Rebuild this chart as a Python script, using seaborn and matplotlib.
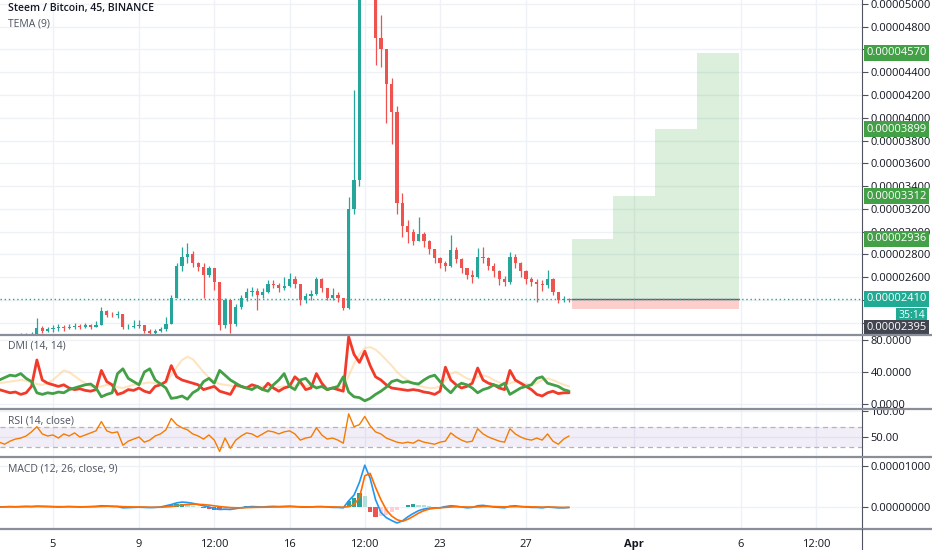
import numpy as np
import pandas as pd
import matplotlib
matplotlib.use("Agg")
import matplotlib.pyplot as plt
import matplotlib.dates as mdates
from matplotlib.lines import Line2D
from matplotlib.ticker import FixedLocator, FuncFormatter
import seaborn as sns

# Steem / BTC, resampled to 6h candles, prices in satoshi (1e-8 BTC)
start = "2019-03-02 12:00"
first_open = 2060
close = [2070, 2080, 2075, 2085, 2090, 2095, 2100, 2150, 2130, 2140,
         2150, 2160, 2150, 2165, 2170, 2160, 2175, 2165, 2180, 2300,
         2270, 2265, 2275, 2160, 2165, 2170, 2175, 2130, 2110, 2125,
         2140, 2190, 2420, 2700, 2780, 2800, 2720, 2690, 2620, 2680,
         2560, 2180, 2400, 2190, 2340, 2420, 2470, 2480, 2440, 2470,
         2540, 2530, 2500, 2520, 2580, 2540, 2400, 2430, 2450, 2580,
         2500, 2420, 2440, 2420, 2330, 3200, 3450, 5100, 5300, 5200,
         4700, 4600, 4300, 4050, 3250, 3050, 3000, 2920, 2980, 2920,
         2850, 2770, 2720, 2700, 2840, 2760, 2680, 2620, 2600, 2780,
         2770, 2700, 2650, 2580, 2560, 2780, 2720, 2650, 2580, 2560,
         2540, 2530, 2580, 2470, 2400, 2410, 2395]
high = [2090, 2095, 2100, 2100, 2105, 2110, 2120, 2240, 2170, 2160,
        2180, 2190, 2175, 2190, 2200, 2185, 2195, 2185, 2210, 2335,
        2310, 2290, 2300, 2275, 2185, 2220, 2225, 2180, 2140, 2145,
        2165, 2250, 2440, 2720, 2865, 2900, 2830, 2735, 2720, 2700,
        2680, 2560, 2420, 2400, 2360, 2440, 2500, 2510, 2500, 2500,
        2575, 2570, 2550, 2600, 2635, 2610, 2540, 2460, 2490, 2600,
        2590, 2500, 2500, 2470, 2420, 3300, 4240, 5150, 5500, 5450,
        5250, 4900, 4600, 4350, 4100, 3340, 3100, 3020, 3130, 3000,
        2930, 2850, 2780, 2740, 2970, 2860, 2770, 2680, 2660, 2855,
        2860, 2780, 2720, 2660, 2610, 2820, 2800, 2730, 2660, 2600,
        2580, 2570, 2665, 2590, 2450, 2430, 2420]
low = [2050, 2060, 2055, 2065, 2070, 2075, 2080, 2095, 2110, 2115,
       2120, 2130, 2125, 2140, 2145, 2140, 2150, 2145, 2160, 2180,
       2250, 2245, 2240, 2140, 2140, 2150, 2150, 2110, 2090, 2100,
       2115, 2130, 2190, 2420, 2650, 2720, 2690, 2650, 2420, 2600,
       2490, 2135, 2150, 2110, 2170, 2320, 2390, 2430, 2310, 2420,
       2460, 2500, 2470, 2490, 2510, 2500, 2355, 2370, 2400, 2440,
       2470, 2400, 2400, 2380, 2310, 2320, 3150, 3400, 5080, 5060,
       4460, 4450, 3950, 3770, 3150, 2950, 2900, 2880, 2920, 2860,
       2800, 2720, 2680, 2650, 2690, 2720, 2640, 2580, 2550, 2590,
       2720, 2660, 2600, 2530, 2520, 2540, 2680, 2600, 2540, 2520,
       2380, 2480, 2500, 2440, 2370, 2380, 2380]

# DMI (14, 14)
plus_di = [30, 33, 36, 35, 38, 32, 28, 14, 12, 14, 13, 15, 14, 18, 20, 22, 24, 25, 20, 9,
           12, 14, 38, 44, 32, 28, 24, 40, 44, 30, 25, 20, 7, 8, 10, 6, 14, 18, 28, 32,
           26, 42, 36, 30, 26, 22, 20, 18, 22, 18, 16, 24, 30, 38, 22, 18, 30, 32, 24, 20,
           22, 18, 20, 22, 34, 15, 9, 8, 4, 7, 12, 16, 21, 28, 30, 27, 28, 26, 25, 30,
           34, 36, 28, 20, 14, 22, 26, 24, 20, 14, 18, 20, 24, 22, 26, 12, 16, 20, 22, 24,
           32, 34, 26, 24, 22, 18, 16]
minus_di = [18, 16, 14, 15, 12, 14, 22, 55, 30, 26, 24, 22, 24, 20, 18, 19, 17, 16, 18, 42,
            28, 24, 12, 14, 18, 17, 20, 16, 14, 22, 24, 28, 48, 34, 30, 28, 26, 24, 18, 20,
            22, 16, 14, 12, 24, 22, 20, 24, 22, 18, 26, 20, 16, 20, 22, 34, 28, 18, 20, 38,
            26, 18, 20, 18, 16, 84, 62, 52, 66, 48, 34, 30, 24, 20, 19, 18, 17, 18, 17, 15,
            14, 12, 16, 46, 30, 24, 20, 22, 26, 45, 30, 26, 24, 20, 18, 42, 30, 26, 22, 18,
            12, 10, 14, 16, 13, 14, 14]
adx = [26, 27, 28, 29, 30, 29, 27, 25, 24, 26, 30, 36, 42, 40, 35, 30, 26, 22, 20, 22,
       24, 23, 21, 20, 22, 24, 25, 26, 27, 26, 25, 28, 36, 46, 55, 59, 56, 48, 40, 33,
       28, 25, 24, 23, 22, 21, 20, 20, 21, 22, 21, 20, 21, 22, 22, 23, 24, 23, 22, 22,
       21, 20, 20, 20, 21, 35, 50, 62, 70, 71, 68, 62, 55, 48, 40, 34, 30, 26, 23, 21,
       20, 20, 22, 30, 38, 40, 36, 32, 30, 34, 36, 34, 30, 27, 24, 26, 28, 27, 25, 24,
       26, 30, 32, 30, 27, 24, 22]

# RSI (14, close)
rsi = [40, 36, 42, 46, 48, 52, 60, 70, 56, 52, 54, 48, 56, 52, 58, 50, 54, 58, 62, 80,
       62, 58, 60, 34, 42, 46, 50, 40, 44, 52, 56, 64, 86, 74, 68, 64, 56, 52, 46, 54,
       44, 22, 48, 28, 44, 52, 58, 56, 50, 56, 62, 60, 56, 60, 62, 56, 44, 48, 50, 68,
       54, 46, 48, 44, 38, 95, 70, 74, 90, 72, 60, 56, 48, 44, 40, 38, 40, 38, 44, 40,
       38, 36, 40, 42, 58, 50, 44, 40, 42, 66, 56, 50, 46, 42, 40, 66, 56, 50, 46, 44,
       48, 44, 56, 42, 36, 46, 52]

# MACD (12, 26, close, 9), satoshi
macd = [0, 5, 10, 5, 10, 15, 10, 20, 15, 10, 5, 0, 5, 10, 5, 0, 5, 10, 15, 30,
        25, 15, 10, -20, -15, -10, -5, -10, -15, -10, 0, 30, 60, 100, 120, 110, 90, 60, 30, 0,
        -40, -60, -55, -60, -40, -20, 0, 10, 5, 0, 10, 15, 10, 15, 20, 10, 0, -5, 0, 10,
        10, 0, -10, -10, -20, 150, 290, 600, 1020, 700, 180, -130, -260, -330, -390, -340, -240, -160, -90, -50,
        -30, -20, -20, 10, 30, 20, 0, -20, -10, 30, 40, 20, 0, -10, -20, 20, 30, 10, 0, -10,
        -10, -20, 0, -10, -20, -20, -10]
signal = [0, 2, 5, 5, 7, 10, 10, 13, 14, 13, 11, 8, 7, 8, 7, 5, 5, 6, 8, 14,
          17, 17, 15, 8, 4, 1, 0, -2, -5, -6, -5, 2, 14, 31, 49, 61, 67, 65, 58, 46,
          29, 11, -2, -14, -20, -20, -16, -11, -8, -6, -3, 0, 2, 5, 8, 9, 7, 4, 3, 4,
          6, 5, 2, -1, -5, 10, 60, 220, 760, 820, 480, 180, -70, -220, -310, -350, -300, -230, -150, -90,
          -50, -30, -20, -10, 0, 5, 4, 0, -2, 4, 12, 14, 11, 7, 2, 6, 10, 10, 8, 4,
          1, -3, -2, -4, -7, -10, -10]
hist = [0, 3, 5, 0, 3, 5, 0, 7, 1, -3, -6, -8, -2, 2, -2, -5, 0, 4, 7, 16,
        8, -2, -5, -28, -19, -11, -5, -8, -10, -4, 5, 28, 46, 69, 71, 49, 23, -5, -28, -46,
        -69, -71, -53, -46, -20, 0, 16, 21, 13, 6, 13, 15, 8, 10, 12, 1, -7, -9, -3, 6,
        4, -5, -12, -9, -15, 140, 230, 340, 260, -120, -250, -220, -190, -110, -80, 10, 60, 70, 60, 40,
        20, 10, 0, 20, 30, 15, -4, -20, -8, 26, 28, 6, -11, -17, -22, 14, 20, 0, -8, -14,
        -11, -17, 2, -6, -13, -10, 0]

# long position tool
entry = 2410
stop = 2320
targets = [2936, 3312, 3899, 4570]
target_edges = ["2019-03-29 03:20", "2019-03-31 01:10", "2019-04-02 00:00",
                "2019-04-03 22:50", "2019-04-05 21:40"]
last_price = 2395

# price levels whose scale labels sit fully under a badge
hidden_levels = [2200, 2400, 4600]

tick_dates = ["2019-03-05 00:00", "2019-03-09 00:00", "2019-03-12 12:00", "2019-03-16 00:00",
              "2019-03-19 12:00", "2019-03-23 00:00", "2019-03-27 00:00", "2019-04-01 00:00",
              "2019-04-06 00:00", "2019-04-09 12:00"]
tick_labels = ["5", "9", "12:00", "16", "12:00", "23", "27", "Apr", "6", "12:00"]

UP = "#26a69a"
DOWN = "#ef5350"
GRID = "#eef1f6"
TEXT = "#4c525e"
SEP = "#8a8e98"

sns.set_style("white")
plt.rcParams["font.family"] = ["Open Sans", "DejaVu Sans"]

W, H = 932, 550
fig = plt.figure(figsize=(W / 100, H / 100), dpi=100)


def px_axes(top, bottom):
    return fig.add_axes([0, 1 - bottom / H, 862 / W, (bottom - top) / H])


ax = px_axes(0, 335)
ax_dmi = px_axes(335, 409)
ax_rsi = px_axes(409, 457)
ax_macd = px_axes(457, 529)
axes = [ax, ax_dmi, ax_rsi, ax_macd]

t = mdates.date2num(pd.date_range(start, periods=len(close), freq="6h"))
opens = [first_open] + close[:-1]
xlim = (mdates.date2num(pd.Timestamp("2019-03-02 12:50")),
        mdates.date2num(pd.Timestamp("2019-04-11 15:00")))
ticks_x = mdates.date2num(pd.to_datetime(tick_dates, format="%Y-%m-%d %H:%M"))

# candles
colors = [UP if c >= o else DOWN for o, c in zip(opens, close)]
ax.vlines(t, low, high, colors=colors, linewidth=0.9, zorder=3)
bottoms = np.minimum(opens, close)
heights = np.maximum(np.abs(np.array(close) - np.array(opens)), 4)
ax.bar(t, heights, bottom=bottoms, width=0.15, color=colors, zorder=3, linewidth=0)

# long position boxes
edges = mdates.date2num(pd.to_datetime(target_edges, format="%Y-%m-%d %H:%M"))
for i, tgt in enumerate(targets):
    ax.fill_between([edges[i], edges[i + 1]], entry, tgt, color="#4caf50", alpha=0.2,
                    linewidth=0, zorder=1)
ax.fill_between([edges[0], edges[-1]], stop, entry, color="#f44336", alpha=0.25,
                linewidth=0, zorder=1)
ax.plot([edges[0], edges[-1]], [entry, entry], color="#5d606b", lw=1, zorder=2)
ax.axhline(entry, color=UP, lw=1, ls=(0, (1, 2)), zorder=2)

ax.set_ylim(2091, 5035)
ax.yaxis.set_major_locator(FixedLocator(range(2200, 5001, 200)))
ax.yaxis.set_major_formatter(
    FuncFormatter(lambda v, _: "" if round(v) in hidden_levels else f"{v * 1e-8:.8f}"))

# DMI
sns.lineplot(x=t, y=adx, ax=ax_dmi, color="#ffcc80", alpha=0.5, linewidth=1.5)
sns.lineplot(x=t, y=minus_di, ax=ax_dmi, color="#f23a2a", linewidth=2)
sns.lineplot(x=t, y=plus_di, ax=ax_dmi, color="#43a047", linewidth=2)
ax_dmi.set_ylim(-6.25, 86.25)
ax_dmi.yaxis.set_major_locator(FixedLocator([0, 40, 80]))
ax_dmi.yaxis.set_major_formatter(FuncFormatter(lambda v, _: f"{v:.4f}"))

# RSI
ax_rsi.axhspan(30, 70, color="#9575cd", alpha=0.12, linewidth=0)
for lvl in (30, 70):
    ax_rsi.axhline(lvl, color="#b2b5be", lw=0.9, ls=(0, (4, 3)))
sns.lineplot(x=t, y=rsi, ax=ax_rsi, color="#f57c00", linewidth=1)
ax_rsi.set_ylim(11.2, 104.4)
ax_rsi.yaxis.set_major_locator(FixedLocator([50, 100]))
ax_rsi.yaxis.set_major_formatter(FuncFormatter(lambda v, _: f"{v:.2f}"))

# MACD
hist_colors = []
for i, h in enumerate(hist):
    prev = hist[i - 1] if i else 0
    if h >= 0:
        hist_colors.append(UP if h >= prev else "#b2dfdb")
    else:
        hist_colors.append(DOWN if h < prev else "#ffcdd2")
ax_macd.bar(t, hist, width=0.2, color=hist_colors, linewidth=0)
sns.lineplot(x=t, y=macd, ax=ax_macd, color="#2196f3", linewidth=1.2)
sns.lineplot(x=t, y=signal, ax=ax_macd, color="#ff6d00", linewidth=1.2)
ax_macd.set_ylim(-537, 1220)
ax_macd.yaxis.set_major_locator(FixedLocator([0, 1000]))
ax_macd.yaxis.set_major_formatter(FuncFormatter(lambda v, _: f"{v * 1e-8:.8f}"))

for a in axes:
    a.set_xlim(*xlim)
    a.set_xticks(ticks_x)
    a.grid(True, color=GRID, lw=1)
    a.set_axisbelow(True)
    a.yaxis.tick_right()
    a.tick_params(axis="y", colors=TEXT, labelsize=8, length=4, width=0.8, pad=2,
                  labelcolor="#131722")
    a.tick_params(axis="x", length=0, labelbottom=False)
    for s in ("top", "left", "bottom"):
        a.spines[s].set_visible(False)
    a.spines["right"].set_color("#50535e")
    a.set_xlabel("")
    a.set_ylabel("")

ax_macd.tick_params(axis="x", labelbottom=True, length=3, colors=TEXT, labelsize=8,
                    labelcolor="#131722", pad=4)
ax_macd.set_xticklabels(tick_labels)
for lab in ax_macd.get_xticklabels():
    if lab.get_text() == "Apr":
        lab.set_fontweight("bold")


# price badges
def badge(a, val, text, fc, dx=3, dy=0, size=8):
    a.annotate(text, xy=(1, val), xycoords=a.get_yaxis_transform(), xytext=(dx, dy),
               textcoords="offset points", ha="left", va="center", fontsize=size,
               color="white", annotation_clip=False, zorder=10,
               bbox=dict(boxstyle="square,pad=0.22", fc=fc, ec="none"))


for tgt in targets:
    badge(ax, tgt, f"{tgt * 1e-8:.8f}", "#43a047")
badge(ax, entry, f"{entry * 1e-8:.8f}", "#22ab94")
badge(ax, entry, "35:14", "#22ab94", dx=26, dy=-12, size=7.5)
badge(ax, last_price, f"{last_price * 1e-8:.8f}", "#434651", dy=-19.5)

# panel separators across the full width
for y in (335, 409, 457, 529):
    fig.add_artist(Line2D([0, 1], [1 - y / H, 1 - y / H], color=SEP, lw=1.6))
fig.add_artist(Line2D([862 / W, 862 / W], [0, 21 / H], color="#50535e", lw=0.8))

# legends / titles
fig.text(8 / W, 1 - 9 / H, "Steem / Bitcoin, 45, BINANCE", fontsize=7.6,
         fontweight="semibold", color="#131722", va="center")
fig.text(8 / W, 1 - 24 / H, "TEMA (9)", fontsize=7.5, color="#4c525e", va="center")
fig.text(8 / W, 1 - 346 / H, "DMI (14, 14)", fontsize=7.5, color="#4c525e", va="center")
fig.text(8 / W, 1 - 421 / H, "RSI (14, close)", fontsize=7.5, color="#4c525e", va="center")
fig.text(8 / W, 1 - 469 / H, "MACD (12, 26, close, 9)", fontsize=7.5, color="#4c525e",
         va="center")

fig.savefig("out.png", dpi=100)
